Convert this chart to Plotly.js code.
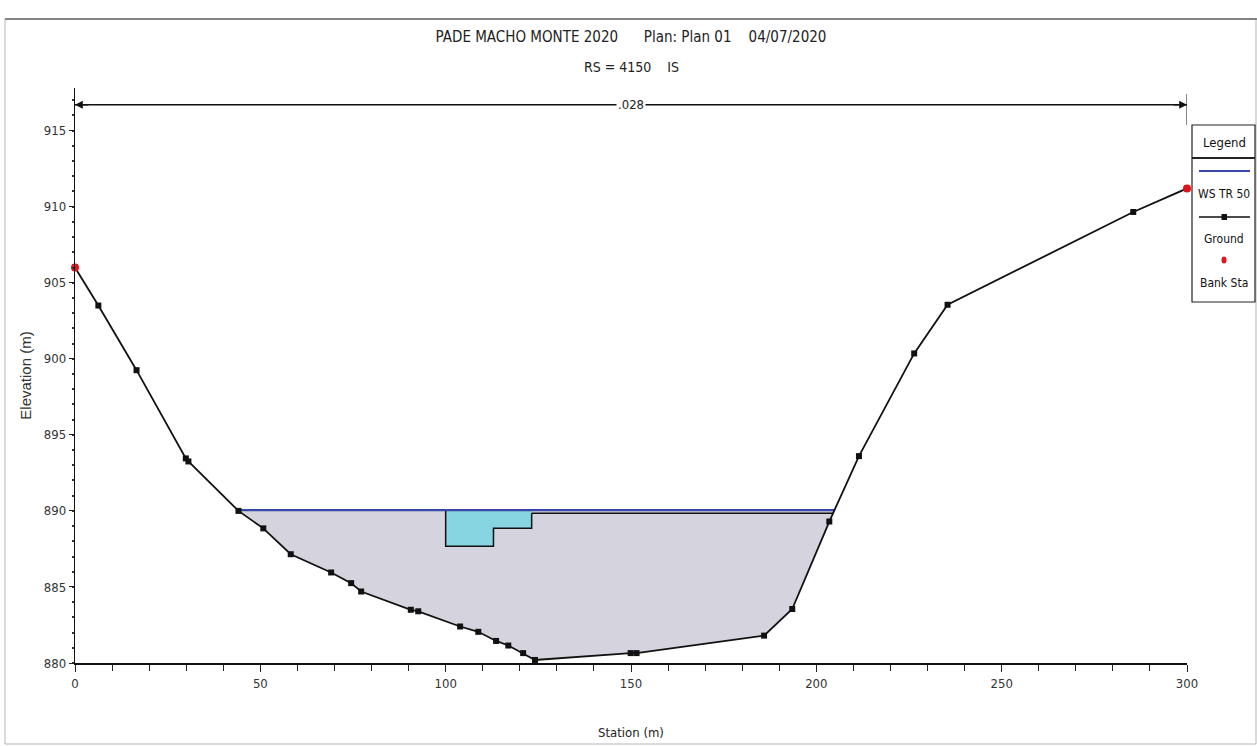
<!DOCTYPE html>
<html>
<head>
<meta charset="utf-8">
<script src="https://cdn.plot.ly/plotly-3.0.1.min.js"></script>
<style>
  html, body { margin: 0; padding: 0; background: #ffffff; }
  #chart { width: 1257px; height: 746px; }
</style>
</head>
<body>
<div id="chart"></div>
<script>
// ---- Data ----
const groundStation = [0, 6.3, 16.6, 29.9, 30.6, 44.1, 50.8, 58.2, 69.1, 74.5, 77.2, 90.6, 92.6,
  103.9, 108.8, 113.6, 116.9, 120.9, 124.1, 149.9, 151.5, 185.9, 193.5, 203.5, 211.5, 226.4,
  235.4, 285.5, 300];
const groundElev = [906.0, 903.5, 899.25, 893.45, 893.25, 890.0, 888.85, 887.15, 885.95, 885.25,
  884.7, 883.5, 883.4, 882.4, 882.05, 881.45, 881.15, 880.65, 880.2, 880.65, 880.65, 881.8,
  883.55, 889.3, 893.6, 900.35, 903.55, 909.65, 911.2];
const bankStation = [0, 300];
const bankElev = [906.0, 911.2];
const wsElev = 890.05;               // WS TR 50
const wsStation = [44.0, 204.9];     // water-surface extent
const ineffStation = [100, 100, 112.9, 112.9, 123.2, 123.2];
const ineffElev = [890.05, 887.67, 887.67, 888.86, 888.86, 889.85];
const lidStation = [123.2, 204.6];
const lidElev = [889.85, 889.85];
const manningN = ".028";
const manningStation = [0, 300];
const manningElev = 916.7;
const xTickVals = [0, 50, 100, 150, 200, 250, 300];
const yTickVals = [880, 885, 890, 895, 900, 905, 910, 915];
const legendLabels = ['Legend', 'WS TR 50', 'Ground', 'Bank Sta'];

// ---- Derived polygons ----
const fillX = [wsStation[0]], fillY = [wsElev];
groundStation.forEach((s, i) => {
  if (s > wsStation[0] && s < wsStation[1]) { fillX.push(s); fillY.push(groundElev[i]); }
});
fillX.push(wsStation[1]); fillY.push(wsElev);

const ineffFillX = ineffStation.concat([ineffStation[ineffStation.length - 1]]);
const ineffFillY = ineffElev.concat([wsElev]);

const NARROW = '"Liberation Sans Narrow", "DejaVu Sans Condensed", "Liberation Sans", sans-serif';

const traces = [
  { x: fillX, y: fillY, type: 'scatter', mode: 'lines', fill: 'toself',
    fillcolor: '#d5d4de', line: { width: 0 }, hoverinfo: 'skip', showlegend: false },
  { x: ineffFillX, y: ineffFillY, type: 'scatter', mode: 'lines', fill: 'toself',
    fillcolor: '#86d5e0', line: { width: 0 }, hoverinfo: 'skip', showlegend: false },
  { x: ineffStation, y: ineffElev, type: 'scatter', mode: 'lines',
    line: { color: '#111', width: 1.5 }, showlegend: false },
  { x: lidStation, y: lidElev, type: 'scatter', mode: 'lines',
    line: { color: '#111', width: 1.5 }, showlegend: false },
  { x: wsStation, y: [wsElev, wsElev], type: 'scatter', mode: 'lines', name: 'WS TR 50',
    line: { color: '#3848a8', width: 2.2 }, showlegend: false },
  { x: groundStation, y: groundElev, type: 'scatter', mode: 'lines+markers', name: 'Ground',
    line: { color: '#111', width: 1.8 },
    marker: { symbol: 'square', size: 6, color: '#111' }, cliponaxis: false, showlegend: false },
  { x: bankStation, y: bankElev, type: 'scatter', mode: 'markers', name: 'Bank Sta',
    marker: { symbol: 'circle', size: 8, color: '#e0141e' }, cliponaxis: false, showlegend: false }
];

// paper coordinate helpers (plot area: x 75..1187 px, y 88..663 px)
const PX = px => (px - 75) / 1112;
const PY = py => (663 - py) / 575;

const shapes = [
  // outer frame
  { type: 'rect', xref: 'paper', yref: 'paper', x0: PX(5), x1: PX(1256), y0: PY(744), y1: PY(19),
    line: { color: '#b5b5b5', width: 1 } },
  { type: 'line', xref: 'paper', yref: 'paper', x0: PX(5), x1: PX(1257), y0: PY(19), y1: PY(19),
    line: { color: '#666', width: 1.5 } },
  // Manning's n extent line
  { type: 'line', xref: 'x', yref: 'y', x0: manningStation[0], x1: manningStation[1],
    y0: manningElev, y1: manningElev, line: { color: '#111', width: 1.3 } },
  { type: 'line', xref: 'x', yref: 'paper', x0: manningStation[1], x1: manningStation[1],
    y0: PY(125), y1: PY(94), line: { color: '#111', width: 1 } },
  // legend box
  { type: 'rect', xref: 'paper', yref: 'paper', x0: PX(1192), x1: PX(1255), y0: PY(302), y1: PY(125),
    line: { color: '#222', width: 1.2 }, fillcolor: 'rgba(0,0,0,0)' },
  { type: 'line', xref: 'paper', yref: 'paper', x0: PX(1192), x1: PX(1255), y0: PY(158), y1: PY(158),
    line: { color: '#222', width: 2 } },
  { type: 'line', xref: 'paper', yref: 'paper', x0: PX(1199), x1: PX(1250), y0: PY(171), y1: PY(171),
    line: { color: '#3848a8', width: 2 } },
  { type: 'line', xref: 'paper', yref: 'paper', x0: PX(1199), x1: PX(1250), y0: PY(217), y1: PY(217),
    line: { color: '#111', width: 1.6 } },
  { type: 'rect', xref: 'paper', yref: 'paper', x0: PX(1221.5), x1: PX(1227), y0: PY(220), y1: PY(214),
    line: { width: 0 }, fillcolor: '#111' },
  { type: 'circle', xref: 'paper', yref: 'paper', x0: PX(1221.5), x1: PX(1226.5), y0: PY(263.5), y1: PY(256.5),
    line: { width: 0 }, fillcolor: '#e0141e' }
];

const legendY = [142, 194, 239, 283];
const annotations = [
  { xref: 'paper', yref: 'paper', x: 0.5, y: PY(67), text: 'RS = 4150\u00a0\u00a0\u00a0\u00a0IS',
    showarrow: false, font: { family: NARROW, size: 14, color: '#222' }, xanchor: 'center', yanchor: 'middle' },
  // Manning's n arrows
  { xref: 'x', yref: 'y', x: manningStation[0], y: manningElev, axref: 'x', ayref: 'y',
    ax: manningStation[0] + 4, ay: manningElev, showarrow: true, arrowhead: 2, arrowsize: 1.2,
    arrowwidth: 1.3, arrowcolor: '#111', text: '' },
  { xref: 'x', yref: 'y', x: manningStation[1], y: manningElev, axref: 'x', ayref: 'y',
    ax: manningStation[1] - 4, ay: manningElev, showarrow: true, arrowhead: 2, arrowsize: 1.2,
    arrowwidth: 1.3, arrowcolor: '#111', text: '' },
  { xref: 'x', yref: 'y', x: (manningStation[0] + manningStation[1]) / 2, y: manningElev,
    text: manningN, showarrow: false, bgcolor: '#ffffff', borderpad: 1,
    xanchor: 'center', yanchor: 'middle',
    font: { family: NARROW, size: 13, color: '#222' } }
].concat(legendLabels.map((t, i) => ({
  xref: 'paper', yref: 'paper', x: PX(1224), y: PY(legendY[i]), text: t, showarrow: false,
  xanchor: 'center', yanchor: 'middle',
  font: { family: NARROW, size: i === 0 ? 13 : 12, color: '#111' }
})));

const layout = {
  width: 1257, height: 746,
  margin: { l: 75, r: 70, t: 88, b: 83, pad: 0 },
  paper_bgcolor: '#ffffff', plot_bgcolor: '#ffffff',
  showlegend: false,
  title: {
    text: 'PADE MACHO MONTE 2020\u00a0\u00a0\u00a0\u00a0\u00a0\u00a0Plan: Plan 01\u00a0\u00a0\u00a0\u00a004/07/2020',
    x: 0.5, xanchor: 'center', xref: 'paper', y: 1 - 37 / 746, yanchor: 'middle', yref: 'container',
    font: { family: NARROW, size: 15, color: '#222' }
  },
  xaxis: {
    range: [0, 300], tickvals: xTickVals, ticktext: xTickVals.map(String),
    ticks: 'outside', ticklen: 7, tickwidth: 1, tickcolor: '#222',
    minor: { dtick: 10, ticks: 'outside', ticklen: 6, tickcolor: '#222', showgrid: false },
    showline: true, linecolor: '#111', linewidth: 2.2, showgrid: false, zeroline: false,
    tickfont: { family: NARROW, size: 13, color: '#333' },
    title: { text: 'Station (m)', font: { family: NARROW, size: 13, color: '#222' }, standoff: 38 }
  },
  yaxis: {
    range: [880, 917.8], tickvals: yTickVals, ticktext: yTickVals.map(String),
    ticks: 'outside', ticklen: 5, tickwidth: 1, tickcolor: '#222',
    minor: { dtick: 1, ticks: 'outside', ticklen: 2, tickwidth: 2, tickcolor: '#333', showgrid: false },
    showline: true, linecolor: '#111', linewidth: 1.3, showgrid: false, zeroline: false,
    tickfont: { family: NARROW, size: 13, color: '#333' },
    title: { text: 'Elevation (m)', font: { family: '"Liberation Sans", Arial, sans-serif', size: 15, color: '#333' }, standoff: 8 }
  },
  shapes: shapes,
  annotations: annotations
};

Plotly.newPlot('chart', traces, layout, { displayModeBar: false, staticPlot: true });
</script>
</body>
</html>
